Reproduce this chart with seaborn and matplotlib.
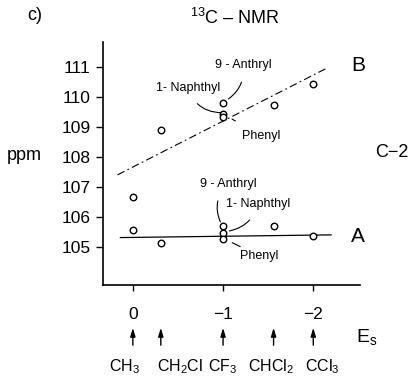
import matplotlib
matplotlib.use("Agg")
import matplotlib.pyplot as plt
import matplotlib.transforms as mtransforms
import seaborn as sns
import pandas as pd

# ---- data ----
es_A = [0.0, 0.0, -0.31, -1.0, -1.0, -1.0, -1.56, -2.0]
ppm_A = [105.57, 106.67, 105.13, 105.68, 105.46, 105.26, 105.68, 105.37]
es_B = [-0.31, -1.0, -1.0, -1.0, -1.56, -2.0]
ppm_B = [108.9, 109.8, 109.43, 109.33, 109.73, 110.43]
lineA_es = [0.14, -2.2]
lineA_ppm = [105.31, 105.40]
lineB_es = [0.17, -2.16]
lineB_ppm = [107.40, 110.97]
yticks = [105, 106, 107, 108, 109, 110, 111]
xticks = [0, -1, -2]
xticklabels = ["0", "\u22121", "\u22122"]
subst_es = [0.0, -0.31, -1.0, -1.56, -2.0]
subst_labels = ["CH$_3$", "CH$_2$Cl", "CF$_3$", "CHCl$_2$", "CCl$_3$"]
subst_label_x = [0.09, -0.52, -1.0, -1.53, -2.1]

sns.set_style("ticks")
plt.rcParams["font.family"] = ["Liberation Sans", "DejaVu Sans"]
plt.rcParams["mathtext.default"] = "regular"
plt.rcParams["mathtext.fontset"] = "custom"
plt.rcParams["mathtext.rm"] = "Liberation Sans"
for k in ["text.color", "xtick.color", "ytick.color", "axes.edgecolor", "axes.labelcolor"]:
    plt.rcParams[k] = "black"

fig = plt.figure(figsize=(4.14, 3.81), dpi=100)
ax = fig.add_axes([0.249, 0.252, 0.621, 0.638])

dfA = pd.DataFrame({"es": es_A, "ppm": ppm_A})
dfB = pd.DataFrame({"es": es_B, "ppm": ppm_B})
sns.lineplot(x=lineA_es, y=lineA_ppm, ax=ax, color="black", lw=0.9, sort=False)
sns.lineplot(x=lineB_es, y=lineB_ppm, ax=ax, color="black", lw=0.8, sort=False,
             linestyle=(0, (7, 3, 1.5, 3)))
sns.scatterplot(data=dfA, x="es", y="ppm", ax=ax, marker="o", s=22,
                facecolor="white", edgecolor="black", linewidth=1.0, zorder=3)
sns.scatterplot(data=dfB, x="es", y="ppm", ax=ax, marker="o", s=22,
                facecolor="white", edgecolor="black", linewidth=1.0, zorder=3)

ax.set_xlim(0.33, -2.52)
ax.set_ylim(103.73, 111.83)
ax.set_yticks(yticks)
ax.set_yticklabels([str(v) for v in yticks], fontsize=12.5)
ax.set_xticks(xticks)
ax.set_xticklabels(xticklabels, fontsize=12.5)
ax.tick_params(axis="y", direction="out", length=5, width=1, pad=4)
ax.tick_params(axis="x", direction="out", length=4, width=1, pad=12)
ax.set_xlabel("")
ax.set_ylabel("")
for s in ["top", "right"]:
    ax.spines[s].set_visible(False)
for s in ["left", "bottom"]:
    ax.spines[s].set_linewidth(1.2)

# series labels
ax.text(-2.42, 105.35, "A", fontsize=15, ha="left", va="center")
ax.text(-2.42, 111.05, "B", fontsize=15, ha="left", va="center")

# compound annotations (upper)
ann = dict(fontsize=9, ha="center", va="center")
ax.annotate("9 - Anthryl", xy=(-1.06, 109.93), xytext=(-1.22, 111.07),
            arrowprops=dict(arrowstyle="-", lw=0.8, color="black", shrinkA=6, shrinkB=0,
                            connectionstyle="arc3,rad=-0.3"), **ann)
ax.annotate("1- Naphthyl", xy=(-0.98, 109.47), xytext=(-0.61, 110.3),
            arrowprops=dict(arrowstyle="-", lw=0.8, color="black", shrinkA=6, shrinkB=0,
                            connectionstyle="arc3,rad=0.35"), **ann)
ax.annotate("Phenyl", xy=(-1.06, 109.33), xytext=(-1.42, 108.7),
            arrowprops=dict(arrowstyle="-", lw=0.8, color="black", shrinkA=8, shrinkB=3,
                            connectionstyle="arc3,rad=0"), **ann)
# compound annotations (lower)
ax.annotate("9 - Anthryl", xy=(-0.97, 105.83), xytext=(-1.06, 107.1),
            arrowprops=dict(arrowstyle="-", lw=0.8, color="black", shrinkA=6, shrinkB=0,
                            connectionstyle="arc3,rad=0.35"), **ann)
ax.annotate("1- Naphthyl", xy=(-1.07, 105.53), xytext=(-1.39, 106.43),
            arrowprops=dict(arrowstyle="-", lw=0.8, color="black", shrinkA=6, shrinkB=0,
                            connectionstyle="arc3,rad=-0.3"), **ann)
ax.annotate("Phenyl", xy=(-1.06, 105.2), xytext=(-1.4, 104.7),
            arrowprops=dict(arrowstyle="-", lw=0.8, color="black", shrinkA=10, shrinkB=3,
                            connectionstyle="arc3,rad=0"), **ann)

# substituent arrows and labels below axis
trans = mtransforms.blended_transform_factory(ax.transData, fig.transFigure)
for xv in subst_es:
    ax.annotate("", xy=(xv, 1 - 325 / 381), xytext=(xv, 1 - 348 / 381),
                xycoords=trans, textcoords=trans,
                arrowprops=dict(arrowstyle="-|>,head_length=0.5,head_width=0.15",
                                lw=1.0, color="black"))
for xv, lab in zip(subst_label_x, subst_labels):
    fig.text(xv, 1 - 367 / 381, lab, transform=trans, fontsize=11.5,
             ha="center", va="center")

fig.text(367 / 414, 1 - 337 / 381, "E$_s$", fontsize=14, ha="center", va="center")
fig.text(24 / 414, 1 - 155 / 381, "ppm", fontsize=13, ha="center", va="center")
fig.text(392 / 414, 1 - 153 / 381, "C\u22122", fontsize=13, ha="center", va="center")
fig.text(35 / 414, 1 - 15 / 381, "c)", fontsize=13, ha="center", va="center")
fig.text(235 / 414, 1 - 18 / 381, "$^{13}$C \u2013 NMR", fontsize=13, ha="center", va="center")

fig.savefig("out.png", dpi=100)
